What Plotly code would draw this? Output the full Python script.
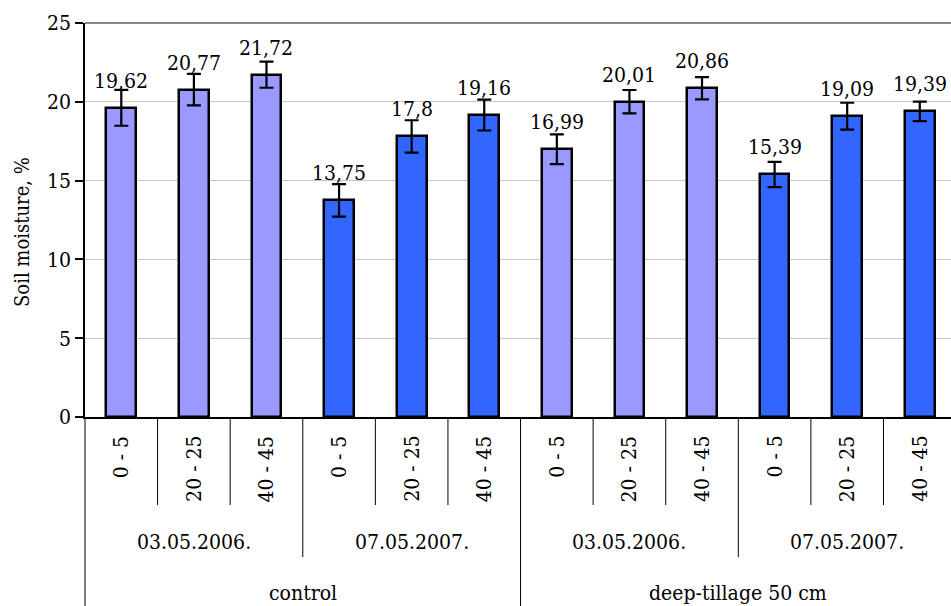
import plotly.graph_objects as go

# Soil moisture by depth, sampling date and tillage treatment
treatments = ["control", "deep-tillage 50 cm"]
dates = ["03.05.2006.", "07.05.2007."]
depths = ["0 - 5", "20 - 25", "40 - 45"]

moisture = [19.62, 20.77, 21.72, 13.75, 17.8, 19.16,
            16.99, 20.01, 20.86, 15.39, 19.09, 19.39]
moisture_err = [1.14, 1.0, 0.83, 1.03, 1.03, 0.98,
                0.94, 0.74, 0.71, 0.8, 0.85, 0.62]

y_title = "Soil moisture, %"
date_colors = ["#9999FF", "#3366FF"]

FONT = "DejaVu Serif Condensed, DejaVu Serif"
FS = 21
W, H = 951, 606
ML, MR, MT, MB = 85, 0, 23, 189
X_LO, X_HI = -0.5, 11.43

n_depth = len(depths)
n_date = len(dates)
n_bars = len(moisture)
xs = list(range(n_bars))
bar_colors = [date_colors[(i // n_depth) % n_date] for i in xs]

fig = go.Figure()
fig.add_trace(go.Bar(
    x=xs, y=moisture, width=0.41,
    marker=dict(color=bar_colors, line=dict(color="black", width=2.5)),
    error_y=dict(type="data", array=moisture_err, visible=True,
                 color="black", thickness=2.2, width=7),
    hoverinfo="y",
))

annotations = []
# value labels above each bar
for x, v in zip(xs, moisture):
    annotations.append(dict(
        x=x, y=v, xref="x", yref="y", text=str(v).replace(".", ","),
        showarrow=False, yanchor="bottom", yshift=13,
        font=dict(family=FONT, size=FS, color="black")))

plot_h = H - MT - MB
plot_w = W - ML - MR


def py(px):
    """paper y for a pixel row measured from the top of the page"""
    return (H - MB - px) / plot_h


def ppx(px):
    """paper x for a pixel column measured from the left of the page"""
    return (px - ML) / plot_w


span = X_HI - X_LO


def pxx(k):
    """paper x for the boundary before category k"""
    return (k - 0.5 - X_LO) / span


# y-axis title
annotations.append(dict(
    x=ppx(22), y=py(232), xref="paper", yref="paper", text=y_title,
    textangle=-90, showarrow=False, xanchor="center", yanchor="middle",
    font=dict(family=FONT, size=20, color="black")))

# depth labels, rotated
for i in xs:
    annotations.append(dict(
        x=i, y=py(434), xref="x", yref="paper", text=depths[i % n_depth],
        textangle=-90, showarrow=False, xanchor="center", yanchor="top",
        font=dict(family=FONT, size=FS, color="black")))

# date labels
for g in range(n_bars // n_depth):
    annotations.append(dict(
        x=g * n_depth + (n_depth - 1) / 2, y=py(542), xref="x", yref="paper",
        text=dates[g % n_date], showarrow=False, yanchor="middle",
        font=dict(family=FONT, size=FS, color="black")))

# treatment labels
per_treat = n_depth * n_date
for t, name in enumerate(treatments):
    annotations.append(dict(
        x=t * per_treat + (per_treat - 1) / 2, y=py(593), xref="x", yref="paper",
        text=name, showarrow=False, yanchor="middle",
        font=dict(family=FONT, size=FS, color="black")))

shapes = []
# category dividers below the axis
for k in range(n_bars):
    if k % per_treat == 0:
        bottom = H
    elif k % n_depth == 0:
        bottom = 557
    else:
        bottom = 505
    shapes.append(dict(type="line", xref="paper", yref="paper",
                       x0=pxx(k), x1=pxx(k), y0=0, y1=py(bottom),
                       line=dict(color="black", width=1)))

# top border of the plot area
shapes.append(dict(type="line", xref="paper", yref="paper",
                   x0=0, x1=1, y0=1, y1=1,
                   line=dict(color="#888888", width=2)))

fig.update_layout(
    width=W, height=H,
    margin=dict(l=ML, r=MR, t=MT, b=MB, pad=0),
    paper_bgcolor="white", plot_bgcolor="white",
    font=dict(family=FONT, size=FS, color="black"),
    showlegend=False,
    bargap=0,
    annotations=annotations,
    shapes=shapes,
    xaxis=dict(range=[X_LO, X_HI], showticklabels=False, ticks="",
               showgrid=False, zeroline=False, showline=True,
               linecolor="black", linewidth=1.5, fixedrange=True),
    yaxis=dict(range=[0, 25], dtick=5, tickmode="linear",
               showgrid=True, gridcolor="#c8c8c8", gridwidth=1,
               zeroline=False, showline=True, linecolor="black", linewidth=1.5,
               ticks="outside", ticklen=8, tickcolor="black", tickwidth=1.5,
               tickfont=dict(family=FONT, size=FS),
               automargin=False, fixedrange=True),
)

fig.write_html("out.html", config={"displayModeBar": False})
